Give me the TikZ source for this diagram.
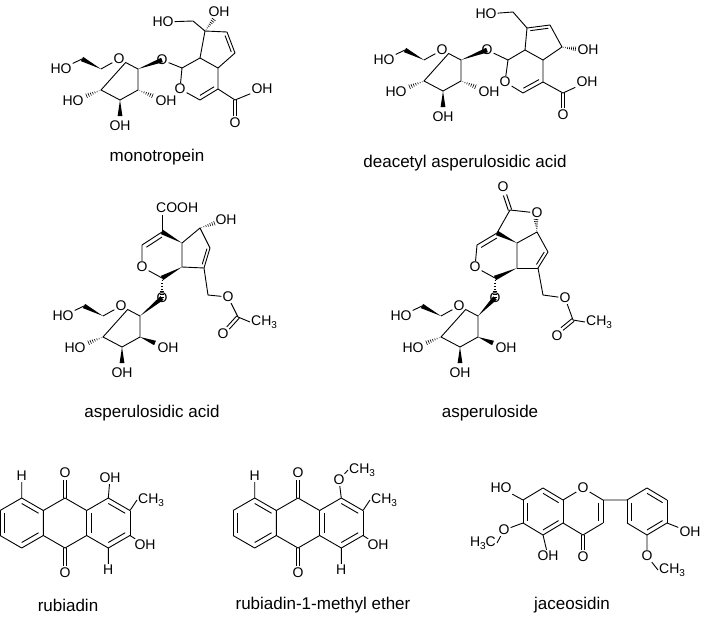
\documentclass[tikz,border=0pt]{standalone}
\usepackage{fontspec}
\setmainfont{Liberation Sans}
\usetikzlibrary{calc}
\newcommand\lowthree{\raisebox{-0.4ex}{\fontsize{10}{10}\selectfont 3}}
\tikzset{bond/.style={line width=0.9pt},
 lab/.style={font=\fontsize{14}{14}\selectfont,inner sep=1pt},
 capt/.style={font=\fontsize{17}{17}\selectfont}}
\newcommand\wdg[2]{\fill ($(#1)$) -- ($(#2)!2.4pt!90:(#1)$) -- ($(#2)!2.4pt!-90:(#1)$) -- cycle;}
\newcommand\hsh[2]{\foreach \t in {0.12,0.26,0.4,0.54,0.68,0.82,0.96}{\pgfmathsetmacro\w{\t*2.4}\path ($(#1)!\t!(#2)$) coordinate (hm); \draw[line width=0.6pt] ($(hm)!\w pt!90:(#1)$) -- ($(hm)!\w pt!-90:(#1)$);}}
\newcommand\dbi[3]{\draw[bond] (#1) -- (#2); \draw[bond] ($(#1)!0.22!(#3)$) -- ($(#2)!0.22!(#3)$);}
\newcommand\dbo[2]{\draw[bond] ($(#1)!1.7pt!90:(#2)$) -- ($(#2)!1.7pt!-90:(#1)$); \draw[bond] ($(#1)!1.7pt!-90:(#2)$) -- ($(#2)!1.7pt!90:(#1)$);}
\newcommand\glu[4]{%
\begin{scope}[shift={(#2,#3)}]
\coordinate (#1c5) at (0,0); \node[lab] (#1o) at (18,-10) {O}; \coordinate (#1c1) at (37,0);
\coordinate (#1c2) at (37,21); \coordinate (#1c3) at (19,31); \coordinate (#1c4) at (0,21); \coordinate (#1c6) at (-19,-10);
\node[lab] (#1ho6) at (-40,0) {HO}; \node[lab] (#1ho4) at (-28,32) {HO}; \node[lab] (#1ho2) at (65,32) {OH}; \node[lab] (#1ho3) at (19,57) {OH};
\coordinate (#1e4) at (-15,27); \coordinate (#1e2) at (52,27); \coordinate (#1e3) at (19,47);
\end{scope}
\draw[bond] (#1c5)--(#1o)--(#1c1)--(#1c2)--(#1c3)--(#1c4)--cycle;
\wdg{#1c5}{#1c6} \draw[bond] (#1c6)--(#1ho6);
\hsh{#1c4}{#1e4} #4{#1c2}{#1e2} \wdg{#1c3}{#1e3}}
\newcommand\anq[3]{%
\begin{scope}[shift={(#2,#3)}]
\coordinate (#1M1) at (0,-25); \coordinate (#1M2) at (21.65,-12.5); \coordinate (#1M3) at (21.65,12.5);
\coordinate (#1M4) at (0,25); \coordinate (#1M5) at (-21.65,12.5); \coordinate (#1M6) at (-21.65,-12.5);
\coordinate (#1L) at (-43.3,0); \coordinate (#1L1) at (-43.3,-25); \coordinate (#1L4) at (-43.3,25);
\coordinate (#1L5) at (-64.95,12.5); \coordinate (#1L6) at (-64.95,-12.5);
\coordinate (#1R) at (43.3,0); \coordinate (#1R1) at (43.3,-25); \coordinate (#1R2) at (64.95,-12.5);
\coordinate (#1R3) at (64.95,12.5); \coordinate (#1R4) at (43.3,25);
\node[lab] (#1Ot) at (0,-50) {O}; \node[lab] (#1Ob) at (0,50) {O};
\coordinate (#1et) at (0,-43); \coordinate (#1eb) at (0,43);
\node[lab] (#1H1) at (-43.3,-47) {H}; \node[lab] (#1H4) at (43.3,47) {H};
\node[lab] (#1OH3) at (80,22) {OH}; \node[lab,anchor=west] (#1Me) at (72,-23) {CH\lowthree};
\end{scope}
\draw[bond] (#1M1)--(#1M2) (#1M3)--(#1M4)--(#1M5)--(#1M6)--(#1M1);
\dbi{#1M2}{#1M3}{#1R} \draw[bond] (#1M2)--(#1R1); \dbi{#1R1}{#1R2}{#1R} \draw[bond] (#1R2)--(#1R3);
\dbi{#1R3}{#1R4}{#1R} \draw[bond] (#1R4)--(#1M3);
\dbi{#1L1}{#1M6}{#1L} \dbi{#1M5}{#1L4}{#1L} \draw[bond] (#1L4)--(#1L5); \dbi{#1L5}{#1L6}{#1L} \draw[bond] (#1L6)--(#1L1);
\dbo{#1M1}{#1et} \dbo{#1M4}{#1eb}
\draw[bond] (#1L1)--(#1H1) (#1R4)--(#1H4) (#1R3)--(#1OH3) (#1R2)--(#1Me.west);}
\begin{document}
\begin{tikzpicture}[x=1pt,y=-1pt]
\useasboundingbox (0,0) rectangle (705,624);
% ---------- monotropein
\glu{ga}{101}{69}{\hsh}
\node[lab] (maO) at (162,60) {O};
\coordinate (m1) at (182,68); \node[lab] (mO) at (180,89) {O}; \coordinate (m3) at (200,100);
\coordinate (m4) at (218,89); \coordinate (m5) at (218,68); \coordinate (m9) at (200,58);
\coordinate (m8) at (205,31); \coordinate (m7) at (227,32); \coordinate (m6) at (235,53);
\coordinate (mP) at (200,79); \coordinate (mQ) at (218,48);
\coordinate (mC) at (235,100); \node[lab] (mCOH) at (262,89) {OH}; \node[lab] (mCO) at (235,123) {O}; \coordinate (mCe) at (235,116);
\coordinate (mCH) at (193,21); \node[lab] (mHO) at (163,22) {HO}; \node[lab] (mOH) at (219,12) {OH}; \coordinate (mOHe) at (214,19);
\wdg{gac1}{maO} \draw[bond] (maO)--(m1)--(mO)--(m3); \dbi{m3}{m4}{mP}
\draw[bond] (m4)--(m5)--(m9)--(m1) (m9)--(m8)--(m7); \dbi{m7}{m6}{mQ} \draw[bond] (m6)--(m5);
\draw[bond] (m8)--(mCH)--(mHO); \hsh{m8}{mOHe}
\draw[bond] (m4)--(mC)--(mCOH); \dbo{mC}{mCe}
\node[capt] (capa) at (157,157) {monotropein};
% ---------- deacetyl asperulosidic acid
\glu{gb}{424}{60}{\hsh}
\node[lab] (daO) at (487,50) {O};
\coordinate (d1) at (508,60); \node[lab] (dO) at (505,82) {O}; \coordinate (d3) at (523,93);
\coordinate (d4) at (543,82); \coordinate (d5) at (543,60); \coordinate (d9) at (525,50);
\coordinate (d8) at (527,28); \coordinate (d7) at (550,25); \coordinate (d6) at (562,47);
\coordinate (dP) at (525,71); \coordinate (dQ) at (542,40);
\coordinate (dC) at (563,93); \node[lab] (dCOH) at (587,82) {OH}; \node[lab] (dCO) at (563,115) {O}; \coordinate (dCe) at (563,108);
\coordinate (dCH) at (513,12); \node[lab] (dHO) at (486,14) {HO}; \node[lab] (dOH) at (588,50) {OH}; \coordinate (dOHe) at (576,49);
\wdg{gbc1}{daO} \draw[bond] (daO)--(d1)--(dO)--(d3); \dbi{d3}{d4}{dP}
\draw[bond] (d4)--(d5)--(d9)--(d1) (d9)--(d8); \dbi{d8}{d7}{dQ} \draw[bond] (d7)--(d6)--(d5);
\draw[bond] (d8)--(dCH)--(dHO); \hsh{d6}{dOHe}
\draw[bond] (d4)--(dC)--(dCOH); \dbo{dC}{dCe}
\node[capt] (capb) at (465,163) {deacetyl asperulosidic acid};
% ---------- asperulosidic acid
\glu{gc}{103}{316}{\wdg}
\node[lab] (caO) at (162,298) {O};
\coordinate (a1) at (162,278); \node[lab] (aO) at (142,267) {O}; \coordinate (a3) at (142,245);
\coordinate (a4) at (162,232); \coordinate (a5) at (182,243); \coordinate (a9) at (182,267);
\coordinate (a6) at (200,228); \coordinate (a7) at (210,248); \coordinate (a8) at (204,268);
\coordinate (aP) at (162,255); \coordinate (aQ) at (196,251);
\node[lab,anchor=west] (aCOOH) at (155,208) {COOH}; \coordinate (aCe) at (162,215);
\node[lab] (aOH) at (226,220) {OH}; \coordinate (aOHe) at (215,223);
\coordinate (aCH) at (208,295); \node[lab] (aOe) at (228,297) {O}; \coordinate (aC) at (238,317);
\node[lab] (aCO) at (223,334) {O}; \coordinate (aCOe) at (228,328); \node[lab,anchor=west] (aMe) at (250,322) {CH\lowthree};
\wdg{gcc1}{caO} \hsh{a1}{caO} \draw[bond] (a1)--(aO)--(a3); \dbi{a3}{a4}{aP}
\wdg{a5}{a4} \wdg{a9}{a1} \draw[bond] (a5)--(a9) (a5)--(a6)--(a7); \dbi{a7}{a8}{aQ} \draw[bond] (a8)--(a9);
\draw[bond] (a4)--(aCe); \hsh{a6}{aOHe}
\draw[bond] (a8)--(aCH)--(aOe)--(aC)--(aMe.west); \dbo{aC}{aCOe}
\node[capt] (capc) at (152,413) {asperulosidic acid};
% ---------- asperuloside
\glu{gd}{441}{316}{\wdg}
\node[lab] (saO) at (495,298) {O};
\coordinate (s1) at (495,278); \node[lab] (sO) at (475,267) {O}; \coordinate (s3) at (477,245);
\coordinate (s4) at (497,233); \coordinate (s5) at (517,243); \coordinate (s9) at (517,268);
\coordinate (s6) at (537,232); \coordinate (s7) at (548,252); \coordinate (s8) at (538,268);
\coordinate (sP) at (496,256); \coordinate (sQ) at (531,252);
\coordinate (sC) at (510,210); \node[lab] (sCO) at (503,187) {O}; \coordinate (sCOe) at (505,195);
\node[lab] (sLO) at (537,213) {O}; \coordinate (sLOe) at (536,219);
\coordinate (sCH) at (543,295); \node[lab] (sOe) at (565,298) {O}; \coordinate (sC2) at (573,320);
\node[lab] (sCO2) at (557,336) {O}; \coordinate (sCO2e) at (562,329); \node[lab,anchor=west] (sMe) at (585,322) {CH\lowthree};
\wdg{gdc1}{saO} \hsh{s1}{saO} \draw[bond] (s1)--(sO)--(s3); \dbi{s3}{s4}{sP}
\wdg{s5}{s4} \wdg{s9}{s1} \draw[bond] (s5)--(s9) (s5)--(s6)--(s7); \dbi{s7}{s8}{sQ} \draw[bond] (s8)--(s9);
\draw[bond] (s4)--(sC)--(sLO); \dbo{sC}{sCOe} \hsh{s6}{sLOe}
\draw[bond] (s8)--(sCH)--(sOe)--(sC2)--(sMe.west); \dbo{sC2}{sCO2e}
\node[capt] (capd) at (490,413) {asperuloside};
% ---------- rubiadin
\anq{ra}{65}{523}
\node[lab] (raOH1) at (110,478) {OH}; \draw[bond] (raR1)--(raOH1);
\node[capt] (cape) at (68,605) {rubiadin};
% ---------- rubiadin-1-methyl ether
\anq{rb}{298}{523}
\node[lab] (rbO1) at (339,480) {O}; \node[lab,anchor=west] (rbMe1) at (348,470) {CH\lowthree};
\draw[bond] (rbR1)--(rbO1)--(rbMe1.west);
\node[capt] (capf) at (323,605) {rubiadin-1-methyl ether};
% ---------- jaceosidin
\coordinate (ja1) at (543,488); \coordinate (ja2) at (563,500); \coordinate (ja3) at (563,523);
\coordinate (ja4) at (543,535); \coordinate (ja5) at (523,523); \coordinate (ja6) at (523,500); \coordinate (jA) at (543,512);
\node[lab] (jO) at (583,488) {O}; \coordinate (jc2) at (603,500); \coordinate (jc3) at (603,523); \coordinate (jc4) at (583,535); \coordinate (jC) at (583,512);
\coordinate (jb1) at (627,500); \coordinate (jb2) at (647,488); \coordinate (jb3) at (667,500);
\coordinate (jb4) at (667,523); \coordinate (jb5) at (647,535); \coordinate (jb6) at (627,523); \coordinate (jB) at (647,512);
\node[lab] (jCO) at (583,557) {O}; \coordinate (jCOe) at (583,550);
\node[lab] (jOH4) at (690,532) {OH}; \node[lab] (jO3) at (647,556) {O}; \node[lab,anchor=west] (jMe3) at (658,570) {CH\lowthree};
\node[lab] (jHO7) at (501,488) {HO}; \node[lab] (jO6) at (504,530) {O}; \node[lab,anchor=east] (jMe6) at (497,543) {H\lowthree C};
\node[lab] (jOH5) at (548,556) {OH};
\dbi{ja1}{ja2}{jA} \draw[bond] (ja2)--(ja3); \dbi{ja3}{ja4}{jA} \draw[bond] (ja4)--(ja5); \dbi{ja5}{ja6}{jA} \draw[bond] (ja6)--(ja1);
\draw[bond] (ja2)--(jO)--(jc2); \dbi{jc2}{jc3}{jC} \draw[bond] (jc3)--(jc4)--(ja3); \dbo{jc4}{jCOe}
\draw[bond] (jc2)--(jb1)--(jb2); \dbi{jb2}{jb3}{jB} \draw[bond] (jb3)--(jb4); \dbi{jb4}{jb5}{jB} \draw[bond] (jb5)--(jb6); \dbi{jb6}{jb1}{jB}
\draw[bond] (jb4)--(jOH4) (jb5)--(jO3)--(jMe3.west) (ja6)--(jHO7) (ja5)--(jO6)--(jMe6.east) (ja4)--(jOH5);
\node[capt] (capg) at (572,605) {jaceosidin};
\end{tikzpicture}
\end{document}
